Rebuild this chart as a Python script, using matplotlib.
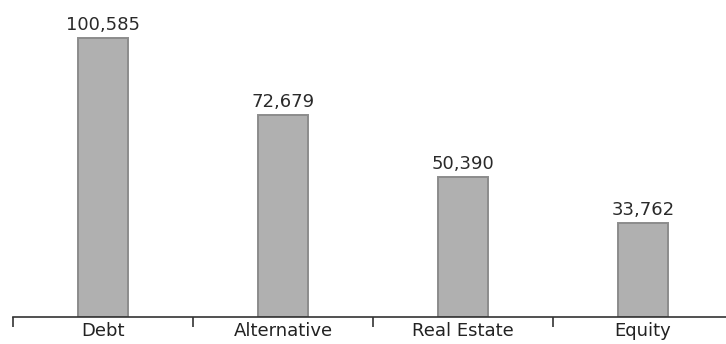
import matplotlib
matplotlib.use("Agg")
import matplotlib.pyplot as plt
import numpy as np

categories = ["Debt", "Alternative", "Real Estate", "Equity"]
values = [100585, 72679, 50390, 33762]
value_labels = ["100,585", "72,679", "50,390", "33,762"]

plt.rcParams["font.family"] = ["DejaVu Sans"]

fig = plt.figure(figsize=(7.26, 3.44), dpi=100)
ax = fig.add_axes([13 / 726, 27 / 344, 720 / 726, 317 / 344])

x = np.arange(len(categories))
ax.bar(x, values, width=0.28, color="#b0b0b0", edgecolor="#8c8c8c",
       linewidth=1.4, zorder=2)

for xi, v, lab in zip(x, values, value_labels):
    ax.annotate(lab, (xi, v), xytext=(0, 6), textcoords="offset points",
                ha="center", va="baseline", fontsize=13, color="#2a2a2a",
                clip_on=False)

ax.set_xlim(-0.5, 3.5)
ax.set_ylim(0, 100585 * 317 / 279)

for side in ("left", "right", "top"):
    ax.spines[side].set_visible(False)
ax.spines["bottom"].set_color("#333333")
ax.spines["bottom"].set_linewidth(1.2)

ax.set_yticks([])
ax.set_xticks(x)
ax.set_xticklabels(categories, fontsize=13, color="#222222")
ax.tick_params(axis="x", which="major", length=0, pad=3.5)
ax.set_xticks(np.arange(-0.5, 3.5, 1.0), minor=True)
ax.tick_params(axis="x", which="minor", length=7, width=1.2, color="#333333",
               direction="out")

fig.savefig("out.png", dpi=100)
